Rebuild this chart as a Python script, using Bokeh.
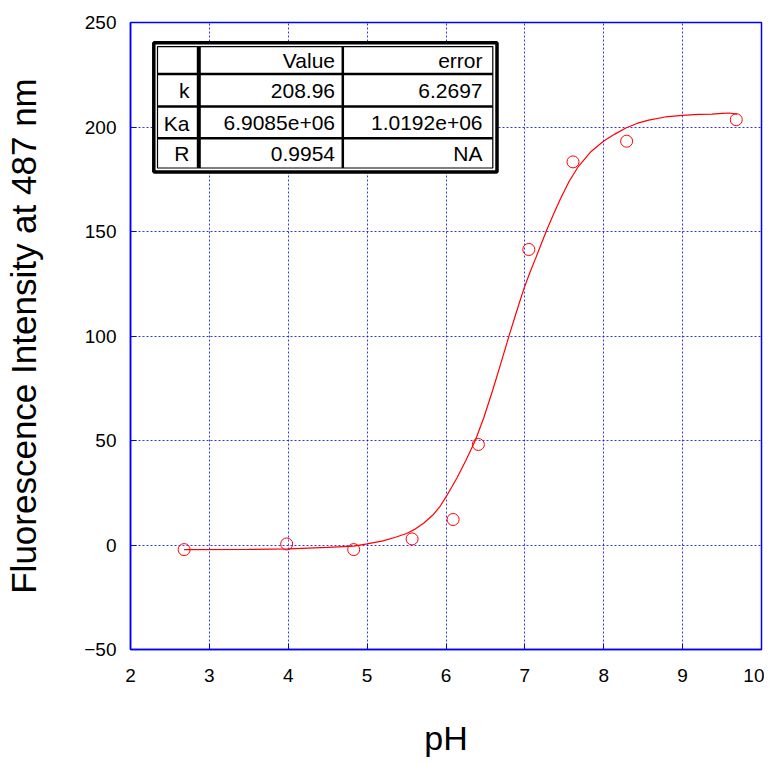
from bokeh.plotting import figure
from bokeh.embed import file_html
from bokeh.resources import INLINE
from bokeh.models import FixedTicker, Range1d, CustomJSTickFormatter
from bokeh.core.properties import value

# ---- data ----
ph_points = [2.68, 3.98, 4.83, 5.57, 6.09, 6.41, 7.05, 7.61, 8.29, 9.68]
intensity_points = [-2.2, 0.5, -2.2, 2.9, 12.2, 48.1, 141.4, 183.3, 193.2, 203.5]

ph_fit = [2.68, 3.5, 4.0, 4.5, 4.83, 5.0, 5.2, 5.36, 5.5, 5.61, 5.72, 5.83, 5.92, 6.0, 6.07,
          6.14, 6.25, 6.37, 6.48, 6.59, 6.70, 6.80, 6.90, 6.99, 7.07, 7.14, 7.21, 7.28,
          7.37, 7.45, 7.56, 7.68, 7.84, 8.0, 8.14, 8.28, 8.42, 8.57, 8.78, 9.0, 9.2,
          9.37, 9.5, 9.59, 9.69]
intensity_fit = [-2.2, -2.1, -1.9, -1.1, -0.5, 0.5, 2.0, 3.7, 5.5, 7.6, 10.5, 14.2, 18.2, 23.0, 27.5,
                 32.2, 40.3, 49.9, 61.0, 73.8, 87.5, 100.2, 112.3, 122.9, 131.0, 137.5, 144.3, 151.0,
                 158.8, 165.6, 173.9, 181.2, 188.3, 193.3, 196.6, 199.5, 201.7, 203.3, 204.8, 205.6, 206.0,
                 206.2, 206.5, 206.7, 206.2]

x_ticks = [2, 3, 4, 5, 6, 7, 8, 9, 10]
y_ticks = [-50, 0, 50, 100, 150, 200, 250]

table_rows = ["", "k", "Ka", "R"]
table_values = ["Value", "208.96", "6.9085e+06", "0.9954"]
table_errors = ["error", "6.2697", "1.0192e+06", "NA"]

X_MIN, X_MAX = 2, 10
Y_MIN, Y_MAX = -50, 250

# ---- layout ----
OFF = 1
W, H = 764, 759
ML, MR, MT = 130, 3, 22
FW = W - ML - MR
FH = 630
MB = H - MT - FH

p = figure(width=W, height=H, output_backend="svg", toolbar_location=None,
           x_range=Range1d(X_MIN, X_MAX), y_range=Range1d(Y_MIN, Y_MAX),
           min_border_left=ML, min_border_right=MR, min_border_top=MT, min_border_bottom=MB)

# page pixel -> data helpers for the table annotation
FRAME_LEFT_PAGE = OFF + ML
FRAME_TOP_PAGE = OFF + MT
def dx(px):
    return X_MIN + (px - FRAME_LEFT_PAGE) * (X_MAX - X_MIN) / FW
def dy(py):
    return Y_MAX - (py - FRAME_TOP_PAGE) * (Y_MAX - Y_MIN) / FH

BLUE = "#0000ff"
tick_font = "Liberation Sans"

p.outline_line_color = BLUE
p.outline_line_width = 1.5
p.background_fill_color = "white"
p.border_fill_color = "white"

for ax in (p.xaxis, p.yaxis):
    ax.axis_line_color = BLUE
    ax.axis_line_width = 1.5
    ax.major_tick_line_color = BLUE
    ax.major_tick_out = 0
    ax.major_tick_in = 6
    ax.minor_tick_line_color = None
    ax.major_label_text_font = tick_font
    ax.major_label_text_font_size = "19px"
    ax.major_label_text_color = "black"
    ax.axis_label_text_font = "Liberation Sans"
    ax.axis_label_text_font_size = "35px"
    ax.axis_label_text_font_style = "normal"
    ax.axis_label_text_color = "black"

p.xaxis.axis_label_text_font_size = "34px"
p.xaxis.ticker = FixedTicker(ticks=x_ticks)
p.yaxis.ticker = FixedTicker(ticks=y_ticks)
p.yaxis.formatter = CustomJSTickFormatter(code="return tick < 0 ? '\u2212' + Math.abs(tick) : String(tick);")
p.xaxis.major_label_standoff = 19
p.yaxis.major_label_standoff = 14
p.xaxis.axis_label = "pH"
p.yaxis.axis_label = "Fluorescence Intensity at 487 nm"
p.xaxis.axis_label_standoff = 34
p.yaxis.axis_label_standoff = 38

for g in (p.xgrid, p.ygrid):
    g.grid_line_color = BLUE
    g.grid_line_dash = "2 2"
    g.grid_line_width = 1
    g.grid_line_alpha = 0.8

# fit curve and points
p.line(ph_fit, intensity_fit, line_color="#ff0000", line_width=1.2)
p.scatter(ph_points, intensity_points, marker="circle", size=12, fill_color=None,
          line_color="#ff0000", line_width=1)

# ---- parameter table ----
T_L, T_R, T_T, T_B = 154.3, 497.5, 43.3, 173.3
I_L, I_R, I_T, I_B = 158.0, 493.3, 47.2, 169.2
COL1, COL2 = 199.3, 343.3
ROWS_Y = [74.7, 107.5, 139.2]

p.quad(left=[dx(T_L)], right=[dx(T_R)], top=[dy(T_T)], bottom=[dy(T_B)],
       fill_color="white", line_color="black", line_width=3.5)
p.quad(left=[dx(I_L)], right=[dx(I_R)], top=[dy(I_T)], bottom=[dy(I_B)],
       fill_color=None, line_color="black", line_width=1.2)
p.segment(x0=[dx(COL1)], y0=[dy(I_T)], x1=[dx(COL1)], y1=[dy(I_B)], line_color="black", line_width=4)
p.segment(x0=[dx(COL2)], y0=[dy(I_T)], x1=[dx(COL2)], y1=[dy(I_B)], line_color="black", line_width=2.5)
p.segment(x0=[dx(I_L)] * 3, y0=[dy(v) for v in ROWS_Y], x1=[dx(I_R)] * 3, y1=[dy(v) for v in ROWS_Y],
          line_color="black", line_width=2.5)

centers = [61.0, 91.8, 124.0, 155.0]
right_edges = [190.0, 335.5, 483.0]
for col, items in enumerate([table_rows, table_values, table_errors]):
    p.text(x=[dx(right_edges[col])] * len(items), y=[dy(c) for c in centers], text=items,
           text_align="right", text_baseline="middle", text_font=value("Liberation Sans"),
           text_font_size="21px", text_color="black")

open("out.html", "w").write(file_html(p, INLINE))
